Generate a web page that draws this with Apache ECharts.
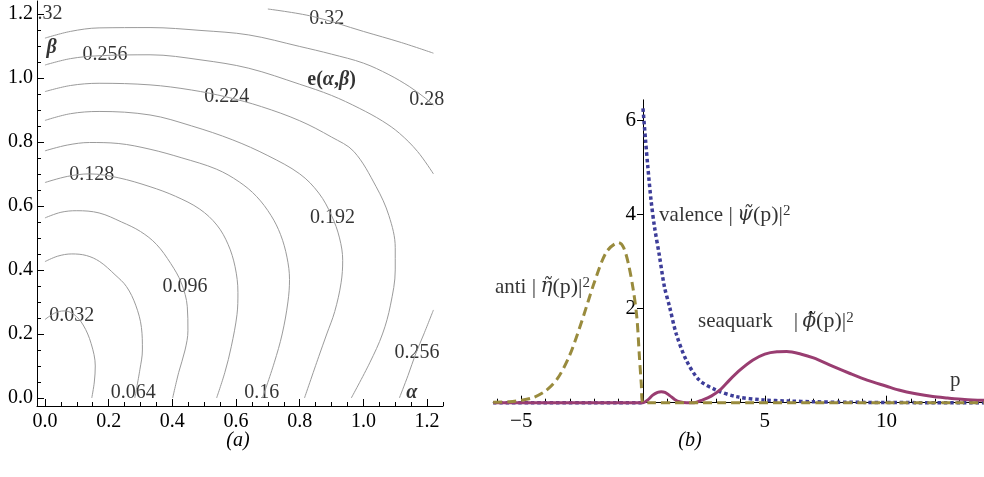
<!DOCTYPE html>
<html>
<head>
<meta charset="utf-8">
<script src="https://cdn.jsdelivr.net/npm/echarts@6/dist/echarts.min.js"></script>
<style>
html, body { margin: 0; padding: 0; background: #fff; }
#chart { width: 984px; height: 477px; }
</style>
</head>
<body>
<div id="chart"></div>
<script>
// ---- panel (a): contour lines of e(alpha, beta) ----
const c032 = [[0,0.245],[0.03,0.265],[0.06,0.272],[0.09,0.262],[0.12,0.228],[0.145,0.17],[0.158,0.1],[0.155,0.05],[0.147,0]];
const c064 = [[0,0.426],[0.04,0.443],[0.084,0.45],[0.13,0.445],[0.172,0.426],[0.22,0.385],[0.256,0.348],[0.285,0.29],[0.303,0.22],[0.306,0.15],[0.298,0.088],[0.282,0]];
const c096 = [[0,0.5625],[0.05,0.58],[0.1,0.585],[0.17,0.578],[0.24,0.55],[0.3,0.52],[0.35,0.48],[0.395,0.42],[0.428,0.36],[0.447,0.285],[0.449,0.21],[0.44,0.15],[0.42,0.08],[0.401,0]];
const c128 = [[0,0.673],[0.07,0.692],[0.14,0.70],[0.23,0.688],[0.33,0.66],[0.41,0.63],[0.486,0.59],[0.54,0.54],[0.575,0.48],[0.597,0.41],[0.606,0.33],[0.603,0.26],[0.585,0.16],[0.565,0.08],[0.539,0]];
const c160 = [[0,0.772],[0.07,0.79],[0.14,0.798],[0.23,0.795],[0.33,0.777],[0.43,0.75],[0.538,0.715],[0.61,0.675],[0.664,0.63],[0.71,0.57],[0.74,0.51],[0.76,0.44],[0.768,0.37],[0.763,0.3],[0.745,0.2],[0.72,0.11],[0.683,0]];
const c192 = [[0,0.867],[0.08,0.888],[0.17,0.895],[0.33,0.884],[0.46,0.85],[0.59,0.806],[0.70,0.757],[0.8,0.7],[0.86,0.64],[0.9,0.57],[0.925,0.5],[0.935,0.43],[0.93,0.36],[0.91,0.27],[0.885,0.2],[0.86,0.13],[0.815,0]];
const c224 = [[0,0.957],[0.08,0.976],[0.17,0.983],[0.33,0.978],[0.46,0.962],[0.571,0.94],[0.68,0.91],[0.8,0.866],[0.9,0.815],[0.97,0.77],[1.04,0.66],[1.08,0.57],[1.1,0.47],[1.1,0.4],[1.085,0.29],[1.06,0.2],[1.02,0.11],[0.962,0]];
const c256a = [[0,1.04],[0.08,1.06],[0.17,1.069],[0.33,1.072],[0.49,1.056],[0.64,1.03],[0.8,0.98],[0.9,0.945],[0.987,0.905],[1.06,0.865],[1.113,0.827],[1.17,0.77],[1.22,0.70]];
const c256b = [[1.22,0.275],[1.19,0.2],[1.165,0.14],[1.14,0.07],[1.113,0]];
const c288 = [[0,1.124],[0.08,1.145],[0.17,1.156],[0.33,1.157],[0.49,1.148],[0.64,1.134],[0.8,1.098],[0.9,1.074],[1.0,1.046],[1.08,1.01],[1.144,0.973],[1.19,0.94],[1.22,0.915]];
const c320 = [[0.70,1.215],[0.84,1.192],[1.0,1.145],[1.12,1.11],[1.22,1.077]];
const contourLines = [c032, c064, c096, c128, c160, c192, c224, c256a, c256b, c288, c320];

// contour value labels [alpha, beta, text]
const contourLabels = [
  [0.084, 0.256, '0.032'], [0.277, 0.015, '0.064'], [0.44, 0.348, '0.096'],
  [0.147, 0.697, '0.128'], [0.681, 0.015, '0.16'], [0.903, 0.562, '0.192'],
  [0.571, 0.942, '0.224'], [0.1885, 1.072, '0.256'], [1.168, 0.14, '0.256'],
  [1.199, 0.933, '0.28'], [0.885, 1.183, '0.32'], [0.016, 1.2, '.32']
];
// axis names inside panel (a)
const nameLabelsA = [
  [0.021, 1.093, '{bi|β}'],
  [0.90, 0.994, '{b|e(}{bi|α}{b|,}{bi|β}{b|)}'],
  [1.152, 0.015, '{bi|α}']
];
const majorA = [0, 0.2, 0.4, 0.6, 0.8, 1.0, 1.2];
const minorA = [0.05, 0.1, 0.15, 0.25, 0.3, 0.35, 0.45, 0.5, 0.55, 0.65, 0.7, 0.75, 0.85, 0.9, 0.95, 1.05, 1.1, 1.15, 1.25];

// ---- panel (b): momentum distributions ----
const valenceP = [-6.15, 0, 0, 0, 0.1, 0.2, 0.33, 0.47, 0.68, 0.88, 1.09, 1.36, 1.77, 2.31, 3.0, 3.82, 4.9, 6, 7, 8, 10, 12, 14];
const valenceY = [0, 0, null, 6.25, 5.6, 5.0, 4.3, 3.74, 3.1, 2.46, 2.04, 1.47, 0.91, 0.48, 0.27, 0.13, 0.06, 0.035, 0.02, 0.01, 0.005, 0, 0];
const seaP = [-6.15, -3, 0, 0.2, 0.4, 0.6, 0.75, 0.9, 1.1, 1.3, 1.5, 1.8, 2.1, 2.4, 2.8, 3.2, 3.55, 4.0, 4.5, 5.0, 5.5, 5.9, 6.5, 7.0, 7.8, 8.5, 9.2, 10, 10.5, 11.2, 11.9, 12.5, 13.2, 14];
const seaY = [0, 0, 0, 0.06, 0.16, 0.22, 0.235, 0.22, 0.15, 0.07, 0.02, 0, 0, 0.05, 0.14, 0.29, 0.48, 0.7, 0.9, 1.03, 1.08, 1.085, 1.03, 0.95, 0.77, 0.62, 0.48, 0.35, 0.27, 0.19, 0.13, 0.1, 0.07, 0.05];
const antiP = [-6.15, -5.5, -5, -4.5, -4, -3.5, -3, -2.5, -2, -1.5, -1.0, -0.8, -0.6, -0.4, -0.25, -0.15, -0.07, 0, 0.3, 14];
const antiY = [0.01, 0.02, 0.05, 0.11, 0.25, 0.52, 1.02, 1.75, 2.55, 3.2, 3.4, 3.3, 2.95, 2.4, 1.8, 1.0, 0.4, 0, 0, 0];
const minorB = [-6, -4, -3, -2, -1, 1, 2, 3, 4, 6, 7, 8, 9, 11, 12, 13, 14];
const majorB = [-5, 5, 10];
const yTicksB = [2, 4, 6];
const curveLabelsB = [
  [0.66, 3.985, '{n|valence }{m||\u2009}{g|ψ̃}{m|(p)|}{s|2}'],
  [-6.08, 2.456, '{n|anti }{m||\u2009}{g|η̃}{m|(p)|}{s|2}'],
  [2.26, 1.72, '{n|seaquark    }{m||\u2009}{g|ϕ̃}{m|(p)|}{s|2}'],
  [12.6, 0.48, '{n|p}']
];

const serif = '"Liberation Serif", "DejaVu Serif", serif';
const pairs = (xs, ys) => xs.map((x, i) => [x, ys[i] === null ? '-' : ys[i]]);

const chart = echarts.init(document.getElementById('chart'));

function axisBase(grid, min, max, pos) {
  return {
    type: 'value', gridIndex: grid, min: min, max: max, position: pos,
    splitLine: { show: false },
    axisLine: { onZero: false, lineStyle: { color: '#000', width: 1 } },
    axisTick: { lineStyle: { color: '#000', width: 1 } },
    axisLabel: { color: '#000', fontFamily: serif }
  };
}

const xA = axisBase(0, -0.025, 1.25, 'bottom');
xA.axisTick.customValues = majorA; xA.axisTick.inside = true; xA.axisTick.length = 7;
xA.axisLabel.customValues = majorA; xA.axisLabel.fontSize = 20; xA.axisLabel.margin = 6;
xA.axisLabel.formatter = v => v.toFixed(1);
const xAm = axisBase(0, -0.025, 1.25, 'bottom');
xAm.axisLine.show = false; xAm.axisLabel.show = false;
xAm.axisTick.customValues = minorA; xAm.axisTick.inside = true; xAm.axisTick.length = 4;

const yA = axisBase(0, -0.025, 1.24, 'left');
yA.axisTick.customValues = majorA; yA.axisTick.inside = true; yA.axisTick.length = 7;
yA.axisLabel.customValues = majorA; yA.axisLabel.fontSize = 20; yA.axisLabel.margin = 4;
yA.axisLabel.formatter = v => v.toFixed(1);
const yAm = axisBase(0, -0.025, 1.24, 'left');
yAm.axisLine.show = false; yAm.axisLabel.show = false;
yAm.axisTick.customValues = minorA; yAm.axisTick.inside = true; yAm.axisTick.length = 4;

const xB = axisBase(1, -6.15, 14, 'bottom');
xB.axisTick.customValues = minorB; xB.axisTick.inside = true; xB.axisTick.length = 4;
xB.axisLabel.show = false;
const xBm = axisBase(1, -6.15, 14, 'bottom');
xBm.axisLine.show = false;
xBm.axisTick.customValues = majorB; xBm.axisTick.inside = true; xBm.axisTick.length = 7;
xBm.axisLabel.customValues = majorB; xBm.axisLabel.fontSize = 21; xBm.axisLabel.margin = 8;
xBm.axisLabel.formatter = v => (v < 0 ? '\u2212' + Math.abs(v) : String(v));

// the vertical axis of panel (b) sits at p = 0: shift it in from the grid's left edge
const yB = axisBase(1, 0, 6.43, 'left');
yB.offset = -(6.15 / 20.15) * 490.8;
yB.axisTick.customValues = yTicksB; yB.axisTick.length = 6;
yB.axisLabel.customValues = yTicksB; yB.axisLabel.fontSize = 21; yB.axisLabel.margin = 7;

const richA = {
  n: { fontFamily: serif, fontSize: 20, color: '#000' },
  b: { fontFamily: serif, fontSize: 20, fontWeight: 'bold', color: '#000' },
  bi: { fontFamily: serif, fontSize: 20, fontWeight: 'bold', fontStyle: 'italic', color: '#000' }
};
const richB = {
  n: { fontFamily: serif, fontSize: 21, color: '#000' },
  m: { fontFamily: serif, fontSize: 22, color: '#000' },
  g: { fontFamily: '"DejaVu Serif", serif', fontSize: 20, fontStyle: 'italic', color: '#000' },
  s: { fontFamily: serif, fontSize: 15, color: '#000', verticalAlign: 'top' }
};

const series = [];
contourLines.forEach(function (c) {
  series.push({
    type: 'line', xAxisIndex: 0, yAxisIndex: 0, data: c, showSymbol: false,
    smooth: 0.35, silent: true, lineStyle: { color: '#9b9b9b', width: 1 }
  });
});
series.push({
  type: 'scatter', xAxisIndex: 0, yAxisIndex: 0, symbolSize: 0, silent: true,
  data: contourLabels.map(d => ({ value: [d[0], d[1]], label: { formatter: d[2] } })),
  label: { show: true, position: 'inside', color: '#000', fontFamily: serif, fontSize: 20 }
});
series.push({
  type: 'scatter', xAxisIndex: 0, yAxisIndex: 0, symbolSize: 0, silent: true,
  data: nameLabelsA.map(d => ({ value: [d[0], d[1]], label: { formatter: d[2] } })),
  label: { show: true, position: 'inside', rich: richA }
});
series.push({
  name: 'valence', type: 'line', xAxisIndex: 2, yAxisIndex: 2, data: pairs(valenceP, valenceY),
  showSymbol: false, smooth: 0.3, clip: false, z: 3,
  lineStyle: { color: '#3d3d99', width: 3.5, type: [3.5, 2.8], cap: 'butt' }
});
series.push({
  name: 'seaquark', type: 'line', xAxisIndex: 2, yAxisIndex: 2, data: pairs(seaP, seaY),
  showSymbol: false, smooth: 0.3, clip: false, z: 4,
  lineStyle: { color: '#993d71', width: 3 }
});
series.push({
  name: 'anti', type: 'line', xAxisIndex: 2, yAxisIndex: 2, data: pairs(antiP, antiY),
  showSymbol: false, smooth: 0.3, clip: false, z: 5,
  lineStyle: { color: '#998b3d', width: 3, type: [9, 5], cap: 'butt' }
});
series.push({
  type: 'scatter', xAxisIndex: 2, yAxisIndex: 2, symbolSize: 0, silent: true,
  data: curveLabelsB.map(d => ({ value: [d[0], d[1]], label: { formatter: d[2] } })),
  label: { show: true, position: 'right', distance: 0, rich: richB }
});

chart.setOption({
  animation: false,
  backgroundColor: '#fff',
  grid: [
    { left: 37, top: 1, width: 406, height: 405 },
    { left: 493.2, top: 99.85, width: 490.8, height: 302.85 }
  ],
  xAxis: [xA, xAm, xB, xBm],
  yAxis: [yA, yAm, yB],
  graphic: [
    { type: 'text', x: 238, y: 441, style: { text: '(a)', font: 'italic 20px ' + serif, fill: '#000', align: 'center', verticalAlign: 'middle' } },
    { type: 'text', x: 690, y: 441, style: { text: '(b)', font: 'italic 20px ' + serif, fill: '#000', align: 'center', verticalAlign: 'middle' } }
  ],
  series: series
});
</script>
</body>
</html>
